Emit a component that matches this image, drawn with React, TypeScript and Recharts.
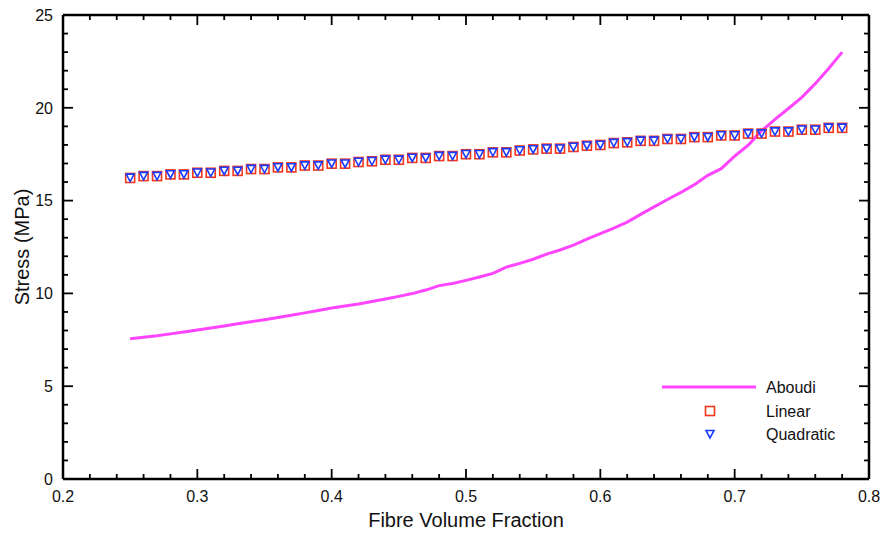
import { ComposedChart, Line, XAxis, YAxis } from "recharts";

// fibre volume fraction, 0.25 .. 0.78 in 0.01 steps
const vf = [
  0.25, 0.26, 0.27, 0.28, 0.29, 0.3, 0.31, 0.32, 0.33, 0.34, 0.35, 0.36, 0.37, 0.38,
  0.39, 0.4, 0.41, 0.42, 0.43, 0.44, 0.45, 0.46, 0.47, 0.48, 0.49, 0.5, 0.51, 0.52,
  0.53, 0.54, 0.55, 0.56, 0.57, 0.58, 0.59, 0.6, 0.61, 0.62, 0.63, 0.64, 0.65, 0.66,
  0.67, 0.68, 0.69, 0.7, 0.71, 0.72, 0.73, 0.74, 0.75, 0.76, 0.77, 0.78,
];

const aboudi = [
  7.56, 7.64, 7.72, 7.82, 7.92, 8.03, 8.13, 8.24, 8.36, 8.47, 8.58, 8.7, 8.82, 8.95,
  9.08, 9.21, 9.32, 9.43, 9.56, 9.7, 9.84, 9.99, 10.18, 10.42, 10.53, 10.7, 10.88, 11.08,
  11.42, 11.62, 11.84, 12.12, 12.34, 12.6, 12.92, 13.22, 13.52, 13.84, 14.26, 14.66, 15.06, 15.44,
  15.86, 16.36, 16.72, 17.4, 17.98, 18.76, 19.38, 19.96, 20.56, 21.3, 22.12, 23.0,
];

const linear = [
  16.22, 16.32, 16.32, 16.41, 16.41, 16.5, 16.5, 16.6, 16.6, 16.7, 16.7, 16.79, 16.79, 16.89,
  16.89, 16.99, 16.99, 17.08, 17.12, 17.2, 17.2, 17.3, 17.3, 17.4, 17.4, 17.5, 17.5, 17.6,
  17.6, 17.7, 17.76, 17.8, 17.8, 17.89, 17.96, 18.0, 18.1, 18.14, 18.22, 18.22, 18.32, 18.32,
  18.42, 18.42, 18.51, 18.51, 18.61, 18.61, 18.72, 18.72, 18.82, 18.82, 18.92, 18.92,
];

const quadratic = [
  16.24, 16.33, 16.33, 16.42, 16.42, 16.51, 16.51, 16.61, 16.61, 16.71, 16.71, 16.8, 16.8, 16.9,
  16.9, 17.0, 17.0, 17.09, 17.13, 17.21, 17.21, 17.31, 17.31, 17.41, 17.41, 17.51, 17.51, 17.61,
  17.61, 17.71, 17.77, 17.81, 17.81, 17.9, 17.97, 18.01, 18.11, 18.15, 18.23, 18.23, 18.33, 18.33,
  18.43, 18.43, 18.52, 18.52, 18.62, 18.62, 18.73, 18.73, 18.83, 18.83, 18.93, 18.93,
];

const xTicks = [
  0.2, 0.22, 0.24, 0.26, 0.28, 0.3, 0.32, 0.34, 0.36, 0.38, 0.4, 0.42, 0.44, 0.46, 0.48,
  0.5, 0.52, 0.54, 0.56, 0.58, 0.6, 0.62, 0.64, 0.66, 0.68, 0.7, 0.72, 0.74, 0.76, 0.78, 0.8,
];
const yTicks = [
  0, 1, 2, 3, 4, 5, 6, 7, 8, 9, 10, 11, 12, 13, 14, 15, 16, 17, 18, 19, 20, 21, 22, 23, 24, 25,
];
const X_DOMAIN = [0.2, 0.8];
const Y_DOMAIN = [0, 25];

const FONT = "'Liberation Sans', Arial, Helvetica, sans-serif";
const C_ABOUDI = "#ff45ff";
const C_LIN = "#f2361c";
const C_QUAD = "#1a3cff";

const W = 883;
const H = 533;
const MARGIN = { top: 15, right: 14, bottom: 53, left: 62 };
// plot box (axes are 1px wide/high)
const PLOT_L = MARGIN.left + 1;
const PLOT_T = MARGIN.top;
const PLOT_W = W - PLOT_L - MARGIN.right;
const PLOT_H = H - MARGIN.top - MARGIN.bottom - 1;

const data = vf.map((x, i) => ({ x, aboudi: aboudi[i], linear: linear[i], quadratic: quadratic[i] }));

const isMajorX = (v: number) => Math.abs(v * 10 - Math.round(v * 10)) < 1e-6;
const isMajorY = (v: number) => v % 5 === 0;

function BottomTick({ x, y, payload }: any) {
  if (!isMajorX(payload.value)) return null;
  return (
    <text x={x} y={y + 23} textAnchor="middle" fontSize={16} fontFamily={FONT} fill="#111">
      {payload.value.toFixed(1)}
    </text>
  );
}

function LeftTick({ x, y, payload }: any) {
  if (!isMajorY(payload.value)) return null;
  return (
    <text x={x - 10} y={y} dy="0.36em" textAnchor="end" fontSize={16} fontFamily={FONT} fill="#111">
      {payload.value}
    </text>
  );
}

function SquareMark({ cx, cy }: any) {
  if (cx == null || cy == null) return null;
  return <rect x={cx - 4.5} y={cy - 4.5} width={9} height={9} fill="none" stroke={C_LIN} strokeWidth={1.6} />;
}

function TriMark({ cx, cy }: any) {
  if (cx == null || cy == null) return null;
  return (
    <path
      d={`M${cx - 4},${cy - 3.5} L${cx + 4},${cy - 3.5} L${cx},${cy + 4} Z`}
      fill="none"
      stroke={C_QUAD}
      strokeWidth={1.6}
    />
  );
}

// inward tick marks on all four sides + top/right frame, laid over the chart
function Frame() {
  const px = (v: number) => PLOT_L + ((v - X_DOMAIN[0]) / (X_DOMAIN[1] - X_DOMAIN[0])) * PLOT_W;
  const py = (v: number) => PLOT_T + PLOT_H - ((v - Y_DOMAIN[0]) / (Y_DOMAIN[1] - Y_DOMAIN[0])) * PLOT_H;
  const bottom = PLOT_T + PLOT_H;
  const right = PLOT_L + PLOT_W;
  return (
    <g stroke="#000" strokeWidth={1.8}>
      {xTicks.map((v) => {
        const len = isMajorX(v) ? 10 : 5;
        const x = px(v);
        return (
          <g key={`x${v}`}>
            <line x1={x} y1={bottom} x2={x} y2={bottom - len} />
            <line x1={x} y1={PLOT_T} x2={x} y2={PLOT_T + len} />
          </g>
        );
      })}
      {yTicks.map((v) => {
        const len = isMajorY(v) ? 10 : 5;
        const y = py(v);
        return (
          <g key={`y${v}`}>
            <line x1={PLOT_L} y1={y} x2={PLOT_L + len} y2={y} />
            <line x1={right} y1={y} x2={right - len} y2={y} />
          </g>
        );
      })}
      <line x1={PLOT_L} y1={PLOT_T} x2={right} y2={PLOT_T} strokeWidth={2.5} />
      <line x1={right} y1={PLOT_T} x2={right} y2={bottom} strokeWidth={2.5} />
    </g>
  );
}

function Overlay() {
  const t = { fontSize: 16, fontFamily: FONT, fill: "#111" };
  return (
    <svg width={W} height={H} style={{ position: "absolute", left: 0, top: 0, pointerEvents: "none" }}>
      <Frame />
      <text x={466} y={527} textAnchor="middle" fontSize={20} fontFamily={FONT} fill="#111">
        Fibre Volume Fraction
      </text>
      <text x={29} y={247} transform="rotate(-90 29 247)" textAnchor="middle" fontSize={20} fontFamily={FONT} fill="#111">
        Stress (MPa)
      </text>
      <g transform="translate(660,378)">
        <line x1={2} y1={9} x2={96} y2={9} stroke={C_ABOUDI} strokeWidth={3} />
        <text x={106} y={9} dy="0.36em" {...t}>Aboudi</text>
        <SquareMark cx={50} cy={33} />
        <text x={106} y={33} dy="0.36em" {...t}>Linear</text>
        <TriMark cx={50} cy={56} />
        <text x={106} y={56} dy="0.36em" {...t}>Quadratic</text>
      </g>
    </svg>
  );
}

const axisLine = { stroke: "#000", strokeWidth: 2.5 };

export default function App() {
  return (
    <div style={{ position: "absolute", left: 0, top: 0 }}>
      <ComposedChart width={W} height={H} data={data} margin={MARGIN}>
        <XAxis
          dataKey="x"
          type="number"
          domain={X_DOMAIN}
          ticks={xTicks}
          interval={0}
          height={1}
          tickSize={0}
          tickMargin={0}
          tickLine={false}
          axisLine={axisLine}
          tick={<BottomTick />}
          allowDataOverflow
        />
        <YAxis
          type="number"
          domain={Y_DOMAIN}
          ticks={yTicks}
          interval={0}
          width={1}
          tickSize={0}
          tickMargin={0}
          tickLine={false}
          axisLine={axisLine}
          tick={<LeftTick />}
          allowDataOverflow
        />
        <Line
          dataKey="aboudi"
          name="Aboudi"
          stroke={C_ABOUDI}
          strokeWidth={3}
          dot={false}
          activeDot={false}
          type="linear"
          isAnimationActive={false}
        />
        <Line
          dataKey="linear"
          name="Linear"
          stroke="none"
          dot={<SquareMark />}
          activeDot={false}
          isAnimationActive={false}
        />
        <Line
          dataKey="quadratic"
          name="Quadratic"
          stroke="none"
          dot={<TriMark />}
          activeDot={false}
          isAnimationActive={false}
        />
      </ComposedChart>
      <Overlay />
    </div>
  );
}
